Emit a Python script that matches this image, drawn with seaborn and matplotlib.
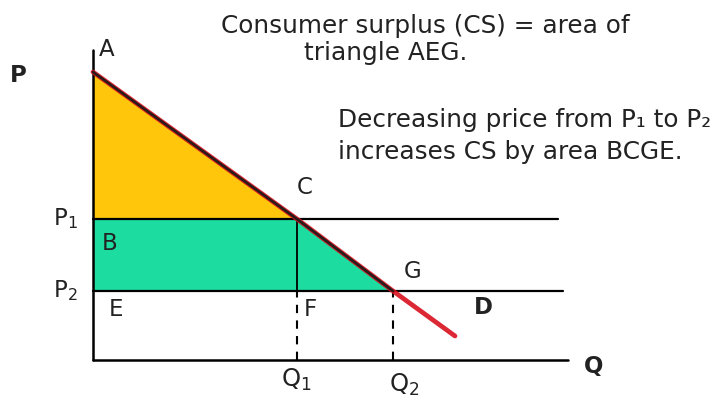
import matplotlib
matplotlib.use("Agg")
import matplotlib.pyplot as plt
import seaborn as sns
import pandas as pd

sns.set_theme(style="white")
plt.rcParams["font.family"] = ["DejaVu Sans"]

# Demand curve points: A (intercept), C, G, and the end of the curve (D)
demand_q = [0.0, 4.08, 6.0, 7.24]
demand_p = [5.76, 2.82, 1.38, 0.48]

# Prices and quantities
price_levels = [2.82, 1.38]          # P1, P2
price_labels = ["P$_1$", "P$_2$"]
quantities = [4.08, 6.0]             # Q1, Q2
quantity_labels = ["Q$_1$", "Q$_2$"]

q_axis_end = 9.5
p_axis_end = 6.2
price_line_ends = [9.3, 9.4]

yellow = "#FFC60B"
green = "#1DDCA0"
red = "#D8101E"
ink = "#222222"

fig = plt.figure(figsize=(7.13, 3.99), dpi=100)
ax = fig.add_axes([0, 0, 1, 1])
ax.set_xlim(-1.86, 12.4)
ax.set_ylim(-0.78, 7.2)
ax.axis("off")

p1, p2 = price_levels
q1, q2 = quantities
a_p = demand_p[0]


def seg(xs, ys, **kw):
    sns.lineplot(x=xs, y=ys, estimator=None, sort=False, ax=ax, **kw)


# Consumer surplus at P1 (yellow triangle)
ax.fill([0, 0, q1], [a_p, p1, p1], color=yellow, lw=0, zorder=1)
# Gain in consumer surplus when price falls to P2 (area BCGE)
ax.fill([0, q1, q2, 0], [p1, p1, p2, p2], color=green, lw=0, zorder=1)

# Axes
seg([0, 0], [0, p_axis_end], color="black", lw=1.8, zorder=4)
seg([0, q_axis_end], [0, 0], color="black", lw=1.8, zorder=4)

# Price lines
for p, end in zip(price_levels, price_line_ends):
    seg([0, end], [p, p], color="black", lw=1.6, zorder=3)

# Vertical C-F
seg([q1, q1], [p2, p1], color="black", lw=1.3, zorder=3)
# Dashed drops to the quantity axis
for q in quantities:
    ax.plot([q, q], [0, p2], color="black", lw=1.5, ls=(0, (4, 3.5)), zorder=3)

# Demand curve: red overall, black along A-G
demand = pd.DataFrame({"Q": demand_q, "P": demand_p})
seg(demand["Q"].tolist(), demand["P"].tolist(), color=red, lw=3.4, alpha=0.9,
    zorder=4, solid_capstyle="round")
seg(demand["Q"][:3].tolist(), demand["P"][:3].tolist(), color="#2a1a1a",
    lw=1.9, zorder=5)

fs = 16.5
fs_note = 17.8
txt = dict(fontsize=fs, color=ink, ha="center", va="center")
bold = dict(txt, fontweight="bold")
note = dict(fontsize=fs_note, color=ink, va="center")

# Point labels
ax.text(0.28, 6.2, "A", **txt)
ax.text(q1 + 0.16, p1 + 0.64, "C", **txt)
ax.text(q2 + 0.4, p2 + 0.4, "G", **txt)
ax.text(7.8, 1.04, "D", **bold)
ax.text(0.34, p1 - 0.48, "B", **txt)
ax.text(0.46, p2 - 0.38, "E", **txt)
ax.text(q1 + 0.26, p2 - 0.38, "F", **txt)

# Axis labels
ax.text(-1.5, 5.68, "P", **bold)
ax.text(10.02, -0.12, "Q", **bold)
for p, lab in zip(price_levels, price_labels):
    ax.text(-0.56, p, lab, **txt)
for q, lab, x_off, y in zip(quantities, quantity_labels, [-0.02, 0.22], [-0.4, -0.5]):
    ax.text(q + x_off, y, lab, fontsize=17.5, color=ink, ha="center", va="center")

# Annotations
ax.text(6.64, 6.68, "Consumer surplus (CS) = area of", ha="center", **note)
ax.text(5.86, 6.14, "triangle AEG.", ha="center", **note)
ax.text(4.9, 4.8, "Decreasing price from P\u2081 to P\u2082", ha="left", **note)
ax.text(4.9, 4.16, "increases CS by area BCGE.", ha="left", **note)

fig.savefig("out.png", dpi=100)
